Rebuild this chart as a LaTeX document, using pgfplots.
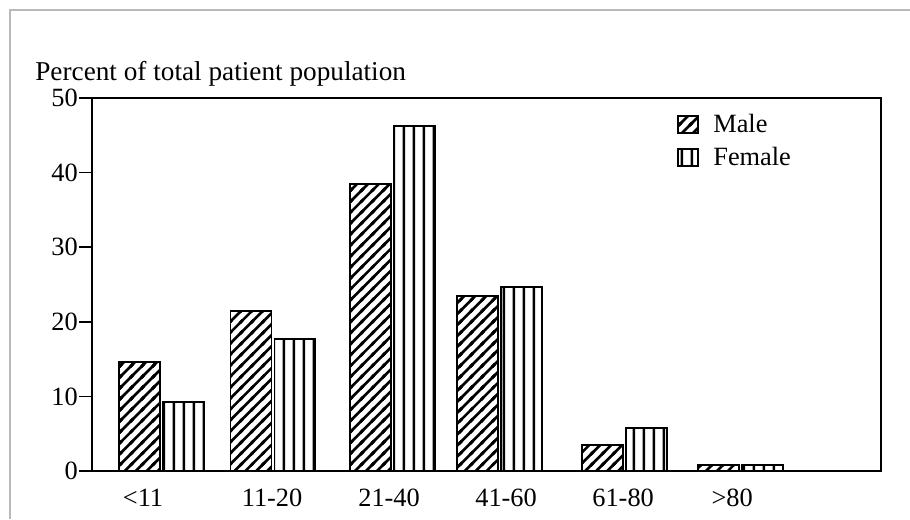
\documentclass[border=0pt]{standalone}
\usepackage{fontspec}
\setmainfont{Liberation Serif}
\usepackage{pgfplots}
\pgfplotsset{compat=1.18}
\usetikzlibrary{patterns}

% diagonal hatch, like the male bars
\pgfdeclarepatternformonly{hatchne}{\pgfqpoint{-1pt}{-1pt}}{\pgfqpoint{7.24pt}{7.24pt}}{\pgfqpoint{6.24pt}{6.24pt}}{%
  \pgfsetlinewidth{1.5pt}
  \pgfpathmoveto{\pgfqpoint{-1pt}{-1pt}}\pgfpathlineto{\pgfqpoint{7.24pt}{7.24pt}}
  \pgfpathmoveto{\pgfqpoint{-1pt}{5.24pt}}\pgfpathlineto{\pgfqpoint{1pt}{7.24pt}}
  \pgfpathmoveto{\pgfqpoint{5.24pt}{-1pt}}\pgfpathlineto{\pgfqpoint{7.24pt}{1pt}}
  \pgfusepath{stroke}}
% vertical lines, like the female bars
\pgfdeclarepatternformonly{vlines}{\pgfqpoint{0pt}{0pt}}{\pgfqpoint{5.67pt}{5.67pt}}{\pgfqpoint{5.67pt}{5.67pt}}{%
  \pgfsetlinewidth{1.4pt}
  \pgfpathmoveto{\pgfqpoint{2.83pt}{-1pt}}\pgfpathlineto{\pgfqpoint{2.83pt}{6.67pt}}
  \pgfusepath{stroke}}

\begin{document}
\begin{tikzpicture}
\useasboundingbox (-1.84cm,-0.96cm) rectangle (16.36cm,9.42cm);
% scan frame
\draw[gray!55, line width=0.6pt] (-1.64cm,-0.96cm) -- (-1.64cm,9.22cm) -- (16.36cm,9.22cm);
\node[anchor=base west, font=\fontsize{15.5}{18}\selectfont, inner sep=0pt] at (-1.14cm,7.82cm) {Percent of total patient population};
\begin{axis}[
  scale only axis, width=15.78cm, height=7.46cm,
  xmin=-0.6007, xmax=6.216, ymin=0, ymax=50,
  ybar=0.06cm, bar width=0.82cm,
  axis line style={line width=1.2pt},
  ytick={0,10,20,30,40,50},
  ytick pos=left, tick align=outside,
  major tick length=0.26cm,
  tick style={line width=0.9pt, black},
  yticklabel style={inner sep=0.5pt, font=\fontsize{15}{17}\selectfont},
  /pgf/number format/assume math mode=true,
  xtick={-0.16,0.955,1.966,2.977,3.988,4.93},
  xticklabels={{<11},{11-20},{21-40},{41-60},{61-80},{>80}},
  xtick style={draw=none},
  xticklabel style={font=\fontsize{15}{17}\selectfont, anchor=base, yshift=-0.45cm},
  legend image code/.code={\draw[#1, line width=1pt] (0cm,-0.17cm) rectangle (0.4cm,0.17cm); \path (0.62cm,0cm);},
  legend style={draw=none, fill=none, at={(0.741,0.968)}, anchor=north west,
    inner sep=0pt, row sep=0.1cm, font=\fontsize{15}{17}\selectfont,
    cells={anchor=west}},
]
\addplot[draw=black, line width=1.1pt, pattern=hatchne]
  coordinates {(0,14.6) (0.963,21.5) (1.997,38.5) (2.923,23.4) (4.002,3.5) (5.0,0.8)};
\addplot[draw=black, line width=1.1pt, pattern=vlines]
  coordinates {(0,9.3) (0.963,17.7) (1.997,46.3) (2.923,24.7) (4.002,5.8) (5.0,0.8)};
\legend{Male, Female}
\end{axis}
\end{tikzpicture}
\end{document}
